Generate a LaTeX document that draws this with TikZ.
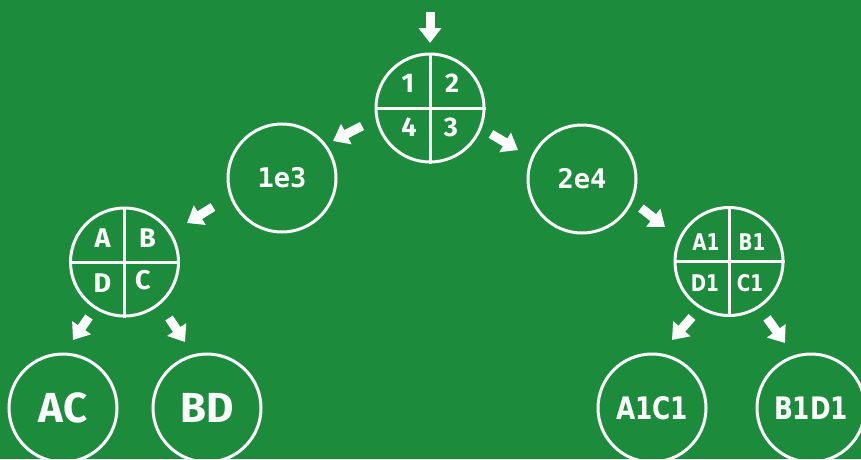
\documentclass[tikz,border=0pt]{standalone}
\usepackage{fontspec}
\setmainfont{Fira Sans}
\newfontfamily\monofont{DejaVu Sans Mono}
\newfontfamily\slabfont[FakeStretch=0.8]{DejaVu Sans}
\usetikzlibrary{arrows.meta}
\definecolor{bg}{RGB}{28,139,60}
\tikzset{
  ring/.style={circle, draw=white, line width=3pt, minimum size=108pt, inner sep=0pt, text=white},
  split/.style={draw=white, line width=3pt},
  quad/.style={inner sep=0pt, text=white, font=\bfseries\fontsize{27}{27}\selectfont},
  quadslab/.style={inner sep=0pt, text=white, font=\slabfont\bfseries\fontsize{23}{23}\selectfont},
  monolbl/.style={font=\monofont\bfseries\fontsize{27}{27}\selectfont},
  biglbl/.style={font=\bfseries\fontsize{42}{42}\selectfont},
  slablbl/.style={font=\slabfont\bfseries\fontsize{31}{31}\selectfont},
  flow/.style={draw=white, line width=9pt, -{Triangle[width=22pt,length=15pt]}}
}
\begin{document}
\begin{tikzpicture}[x=1pt, y=-1pt]
  \fill[bg] (0,0) rectangle (861,459);
  \useasboundingbox (0,0) rectangle (861,459);

  % tree nodes
  \node[ring] (top)  at (430,108) {};
  \node[ring, monolbl] (n1e3) at (282,178) {1e3};
  \node[ring, monolbl] (n2e4) at (582,179) {2e4};
  \node[ring] (abcd) at (124.5,262) {};
  \node[ring] (a1b1) at (729,261.5) {};
  \node[ring, biglbl] (ac) at (63,408) {AC};
  \node[ring, biglbl] (bd) at (207,408) {BD};
  \node[ring, slablbl] (a1c1) at (652,408) {A1C1};
  \node[ring, slablbl] (b1d1) at (811,408) {B1D1};

  % quadrant dividers
  \foreach \n in {top, abcd, a1b1} {
    \draw[split] (\n.north) -- (\n.south);
    \draw[split] (\n.west) -- (\n.east);
  }

  % quadrant labels
  \node[quad] (q1) at (408,83) {1};
  \node[quad] (q2) at (452,83) {2};
  \node[quad] (q4) at (409,127) {4};
  \node[quad] (q3) at (451,127) {3};

  \node[quad] (qa) at (102.5,238) {A};
  \node[quad] (qb) at (147.5,238) {B};
  \node[quad] (qd) at (102.5,283) {D};
  \node[quad] (qc) at (143,280) {C};

  \node[quadslab] (qa1) at (706,242.5) {A1};
  \node[quadslab] (qb1) at (752,242.5) {B1};
  \node[quadslab] (qd1) at (705,283) {D1};
  \node[quadslab] (qc1) at (750,283) {C1};

  % arrow end points
  \coordinate (in0) at (430,12);   \coordinate (in1) at (430,43);
  \coordinate (l0)  at (362,126);  \coordinate (l1)  at (333,141);
  \coordinate (r0)  at (491,134);  \coordinate (r1)  at (518,150);
  \coordinate (ll0) at (213,207);  \coordinate (ll1) at (187,223);
  \coordinate (lc0) at (89,317);   \coordinate (lc1) at (73,340);
  \coordinate (ld0) at (169,318);  \coordinate (ld1) at (185,342);
  \coordinate (rr0) at (641,208);  \coordinate (rr1) at (665,227);
  \coordinate (rc0) at (692,317);  \coordinate (rc1) at (672,340);
  \coordinate (rd0) at (767,318);  \coordinate (rd1) at (785,343);

  % arrows
  \draw[flow] (in0) -- (in1);
  \draw[flow] (l0) -- (l1);
  \draw[flow] (r0) -- (r1);
  \draw[flow] (ll0) -- (ll1);
  \draw[flow] (lc0) -- (lc1);
  \draw[flow] (ld0) -- (ld1);
  \draw[flow] (rr0) -- (rr1);
  \draw[flow] (rc0) -- (rc1);
  \draw[flow] (rd0) -- (rd1);
\end{tikzpicture}
\end{document}
